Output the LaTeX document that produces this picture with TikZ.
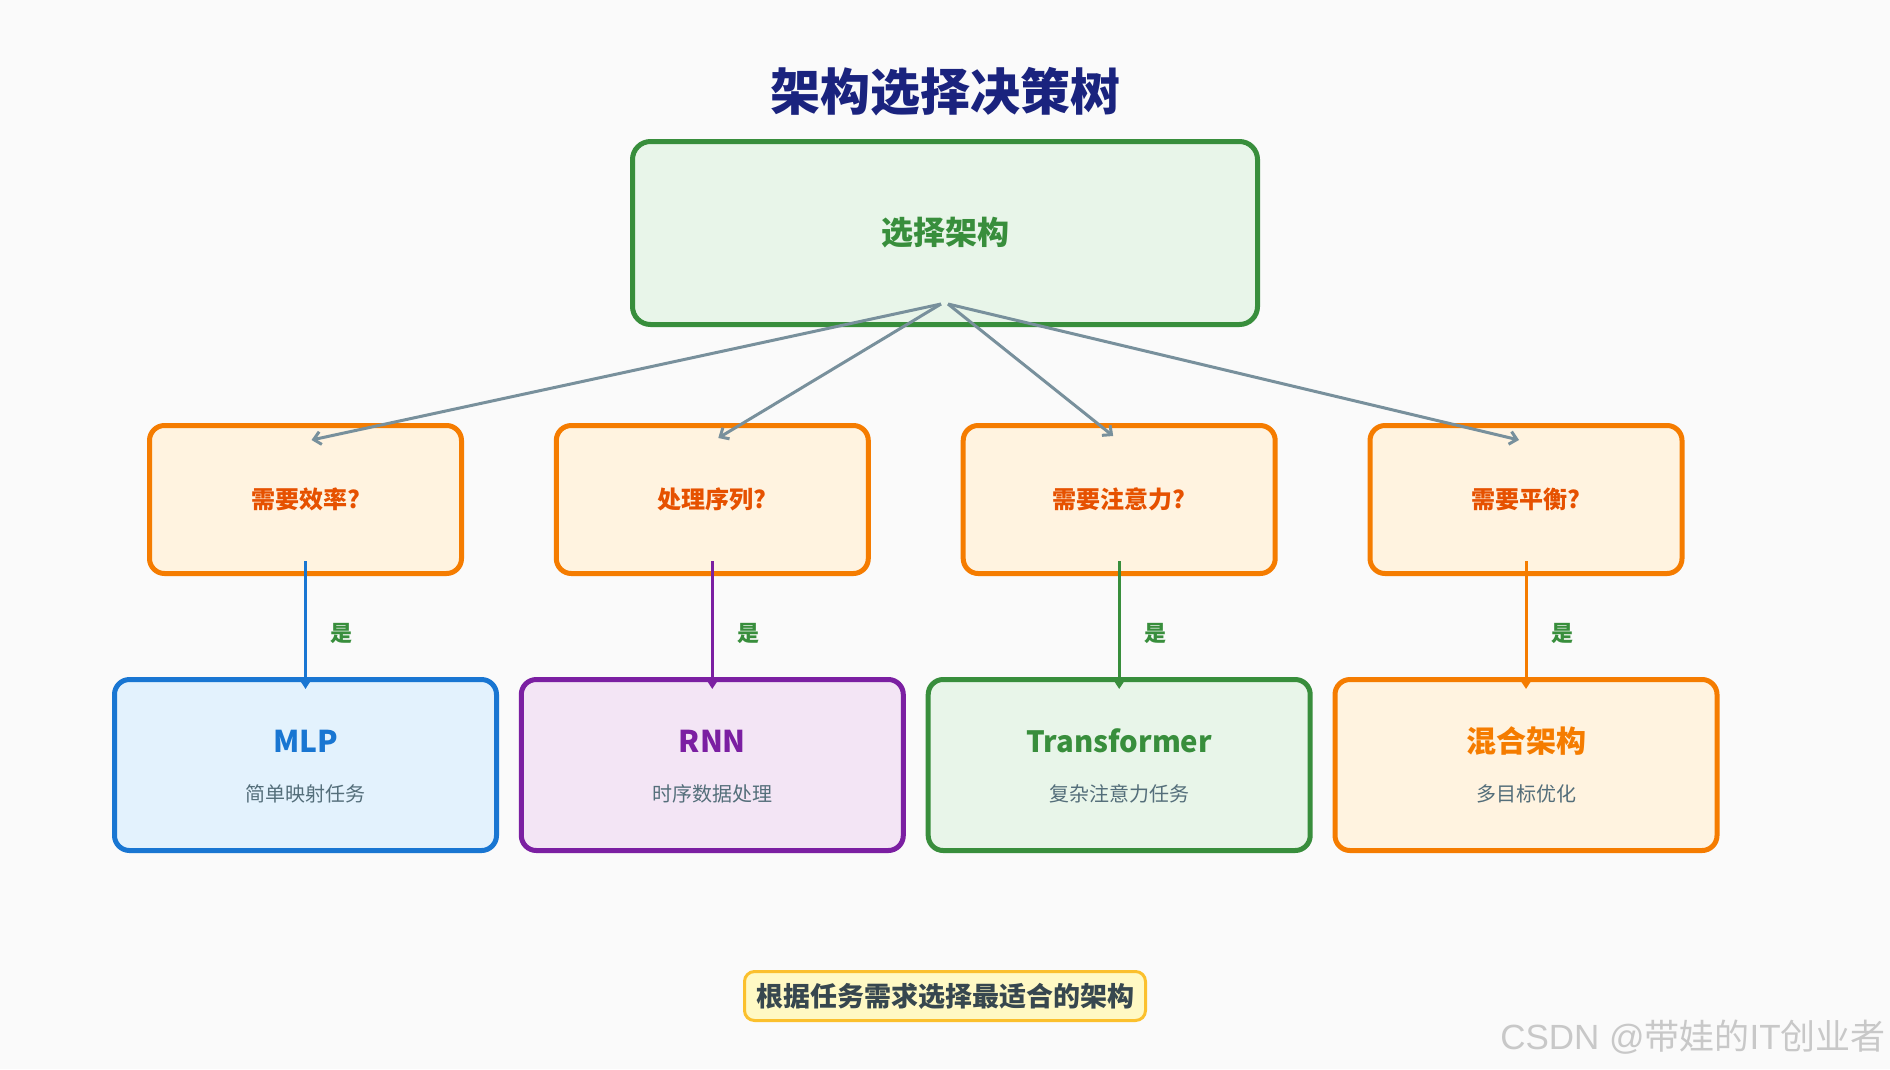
\documentclass[tikz,border=0pt]{standalone}
\usepackage{fontspec}
\setmainfont{Noto Sans CJK SC}
\newfontfamily\wmlatin{Liberation Sans}
\usetikzlibrary{arrows.meta,calc}
\definecolor{cBg}{HTML}{FAFAFA}
\definecolor{cTitle}{HTML}{1A237E}
\definecolor{cGreen}{HTML}{388E3C}
\definecolor{cGreenF}{HTML}{E8F5E9}
\definecolor{cGray}{HTML}{78909C}
\definecolor{cOrange}{HTML}{F57C00}
\definecolor{cOrangeF}{HTML}{FFF3E0}
\definecolor{cOrangeT}{HTML}{E65100}
\definecolor{cBlue}{HTML}{1976D2}
\definecolor{cBlueF}{HTML}{E3F2FD}
\definecolor{cPurple}{HTML}{7B1FA2}
\definecolor{cPurpleF}{HTML}{F3E5F5}
\definecolor{cSub}{HTML}{546E7A}
\definecolor{cNoteF}{HTML}{FFF9C4}
\definecolor{cNoteB}{HTML}{FBC02D}
\definecolor{cNoteT}{HTML}{37474F}
\definecolor{cWm}{HTML}{C8C8C8}
\begin{document}
\begin{tikzpicture}[x=1pt,y=1pt,
  box/.style={draw, rounded corners=15pt, line width=5pt, inner sep=0pt},
  rootbox/.style={box, draw=cGreen, fill=cGreenF, minimum width=625pt, minimum height=183pt, rounded corners=18pt,
    text=cGreen, font=\bfseries\fontsize{32}{38}\selectfont},
  qbox/.style={box, draw=cOrange, fill=cOrangeF, minimum width=312pt, minimum height=148pt,
    text=cOrangeT, font=\bfseries\fontsize{24}{29}\selectfont},
  rbox/.style={box, minimum width=382pt, minimum height=171pt},
  rtitle/.style={anchor=base, inner sep=0pt, font=\bfseries\fontsize{30}{36}\selectfont},
  rsub/.style={anchor=base, inner sep=0pt, text=cSub, font=\fontsize{20}{24}\selectfont},
  garrow/.style={draw=cGray, line width=3pt, -{Straight Barb[length=7pt,width=13pt]}},
  varrow/.style={line width=3pt, -{Triangle[length=9pt,width=11pt]}},
  yes/.style={text=cGreen, font=\bfseries\fontsize{22}{26}\selectfont, inner sep=0pt},
  notebox/.style={draw=cNoteB, fill=cNoteF, line width=3pt, rounded corners=10pt, minimum width=401pt,
    minimum height=49pt, inner sep=0pt, text=cNoteT, font=\bfseries\fontsize{27}{32}\selectfont}
]
\fill[cBg] (0,0) rectangle (1890,-1069);
\useasboundingbox (0,0) rectangle (1890,-1069);

\node[text=cTitle, font=\bfseries\fontsize{50}{60}\selectfont] (title) at (945,-92) {架构选择决策树};

\node[rootbox] (root) at (945,-233) {选择架构};

\node[qbox] (q1) at (305.5,-499.5) {需要效率?};
\node[qbox] (q2) at (712.3,-499.5) {处理序列?};
\node[qbox] (q3) at (1119.2,-499.5) {需要注意力?};
\node[qbox] (q4) at (1526,-499.5) {需要平衡?};

\draw[garrow] ($(root.south)+(-4,23)$) -- ($(q1.north)+(6,-17)$);
\draw[garrow] ($(root.south)+(-4,23)$) -- ($(q2.north)+(6,-15)$);
\draw[garrow] ($(root.south)+(3,23)$) -- ($(q3.north)+(-6,-13)$);
\draw[garrow] ($(root.south)+(3,23)$) -- ($(q4.north)+(-7,-17)$);

\node[rbox, draw=cBlue, fill=cBlueF] (r1) at (305.5,-765) {};
\node[rbox, draw=cPurple, fill=cPurpleF] (r2) at (712.3,-765) {};
\node[rbox, draw=cGreen, fill=cGreenF] (r3) at (1119.2,-765) {};
\node[rbox, draw=cOrange, fill=cOrangeF] (r4) at (1526,-765) {};

\node[rtitle, text=cBlue] (r1t) at ($(r1.center)+(0,13)$) {MLP};
\node[rtitle, text=cPurple] (r2t) at ($(r2.center)+(0,13)$) {RNN};
\node[rtitle, text=cGreen, font=\bfseries\fontsize{29.3}{35}\selectfont] (r3t) at ($(r3.center)+(0,13)$) {Transformer};
\node[rtitle, text=cOrange] (r4t) at ($(r4.center)+(0,13)$) {混合架构};

\node[rsub] (r1s) at ($(r1.center)+(0,-36)$) {简单映射任务};
\node[rsub] (r2s) at ($(r2.center)+(0,-36)$) {时序数据处理};
\node[rsub] (r3s) at ($(r3.center)+(0,-36)$) {复杂注意力任务};
\node[rsub] (r4s) at ($(r4.center)+(0,-36)$) {多目标优化};

\draw[varrow, draw=cBlue, fill=cBlue] ($(q1.south)+(0,15)$) -- ($(r1.north)+(0,-12)$);
\draw[varrow, draw=cPurple, fill=cPurple] ($(q2.south)+(0,15)$) -- ($(r2.north)+(0,-12)$);
\draw[varrow, draw=cGreen, fill=cGreen] ($(q3.south)+(0,15)$) -- ($(r3.north)+(0,-12)$);
\draw[varrow, draw=cOrange, fill=cOrange] ($(q4.south)+(0,15)$) -- ($(r4.north)+(0,-12)$);

\node[yes] (y1) at ($(q1.south)+(36,-57)$) {是};
\node[yes] (y2) at ($(q2.south)+(36,-57)$) {是};
\node[yes] (y3) at ($(q3.south)+(36,-57)$) {是};
\node[yes] (y4) at ($(q4.south)+(36,-57)$) {是};

\node[notebox] (note) at (945,-996) {根据任务需求选择最适合的架构};

\node[anchor=east, inner sep=0pt, text=cWm, font=\fontsize{35}{42}\selectfont] (wm) at (1886,-1037) {{\wmlatin CSDN @}带娃的{\wmlatin IT}创业者};
\end{tikzpicture}
\end{document}
